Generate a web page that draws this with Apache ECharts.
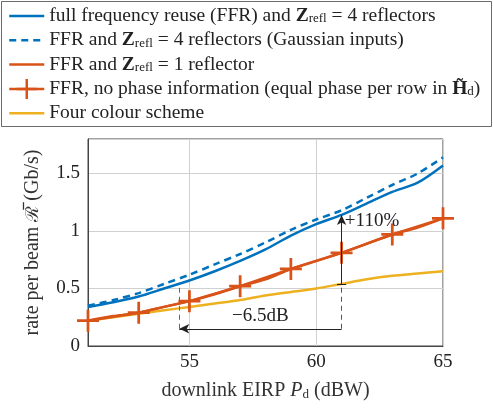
<!DOCTYPE html>
<html>
<head>
<meta charset="utf-8">
<script src="https://cdn.jsdelivr.net/npm/echarts@6/dist/echarts.min.js"></script>
<style>
  html, body { margin: 0; padding: 0; background: #fff; }
  #myChart { width: 493px; height: 408px; }
</style>
</head>
<body>
<div id="myChart"></div>
<script>
// downlink EIRP (dBW)
const eirp = [51, 52, 53, 54, 55, 56, 57, 58, 59, 60, 61, 62, 63, 64, 65]
// rate per beam (Gb/s)
const ffr4 = [0.34, 0.38, 0.43, 0.50, 0.57, 0.65, 0.74, 0.84, 0.96, 1.06, 1.14, 1.24, 1.34, 1.42, 1.57]
const ffr4Gauss = [0.35, 0.40, 0.46, 0.54, 0.62, 0.71, 0.80, 0.90, 1.01, 1.10, 1.18, 1.29, 1.40, 1.50, 1.64]
const ffr1 = [0.22, 0.26, 0.29, 0.34, 0.39, 0.45, 0.52, 0.58, 0.67, 0.74, 0.81, 0.89, 0.97, 1.03, 1.11]
const crossEirp = [51, 53, 55, 57, 59, 61, 63, 65]
const noPhase = [0.22, 0.29, 0.39, 0.52, 0.67, 0.81, 0.97, 1.11]
const fourColour = [0.22, 0.25, 0.28, 0.31, 0.34, 0.37, 0.40, 0.44, 0.47, 0.50, 0.54, 0.58, 0.61, 0.63, 0.65]

// annotations: -6.5dB shift and +110% gain
const shiftX = [61, 54.6]
const shiftY = 0.15
const shiftTop = [0.54, 0.55] // top of the dashed guides at 61 and 54.6
const gainX = 61
const gainY = [0.54, 1.14]

const FONT = 'Liberation Serif'
const names = [
  'full frequency reuse (FFR) and Z = 4 reflectors',
  'FFR and Z = 4 reflectors (Gaussian inputs)',
  'FFR and Z = 1 reflector',
  'FFR, no phase information',
  'Four colour scheme'
]
const legendText = {}
legendText[names[0]] = 'full frequency reuse (FFR) and {b|Z}{sub|refl} = 4 reflectors'
legendText[names[1]] = 'FFR and {b|Z}{sub|refl} = 4 reflectors (Gaussian inputs)'
legendText[names[2]] = 'FFR and {b|Z}{sub|refl} = 1 reflector'
legendText[names[3]] = 'FFR, no phase information (equal phase per row in {b|H\u0303}{sub|d})'
legendText[names[4]] = 'Four colour scheme'

const pairs = (xs, ys) => xs.map((x, i) => [x, ys[i]])
const cross = 'path://M-1.5,-12L1.5,-12L1.5,-1.5L12,-1.5L12,1.5L1.5,1.5L1.5,12L-1.5,12L-1.5,1.5L-12,1.5L-12,-1.5L-1.5,-1.5Z'
const lineOnly = { opacity: 0 } // legend: plain line, no marker

const chart = echarts.init(document.getElementById('myChart'))
chart.setOption({
  animation: false,
  textStyle: { fontFamily: FONT },
  graphic: [{
    type: 'rect',
    shape: { x: 1.5, y: 1.5, width: 490, height: 125 },
    style: { fill: 'none', stroke: '#6b6b6b', lineWidth: 1 },
    z: -1
  }],
  legend: {
    data: [
      { name: names[0], itemStyle: lineOnly },
      { name: names[1], itemStyle: lineOnly },
      { name: names[2], itemStyle: lineOnly },
      { name: names[3] },
      { name: names[4], itemStyle: lineOnly }
    ],
    orient: 'vertical',
    left: 8,
    top: 6,
    padding: 0,
    itemWidth: 35,
    itemHeight: 25,
    itemGap: 4.3,
    lineStyle: { width: 2.5 },
    formatter: name => legendText[name],
    textStyle: {
      fontFamily: FONT,
      fontSize: 19.5,
      color: '#222',
      lineHeight: 20,
      rich: {
        b: { fontFamily: FONT, fontSize: 19.5, fontWeight: 'bold', color: '#222', lineHeight: 20 },
        sub: { fontFamily: FONT, fontSize: 13, color: '#222', lineHeight: 14, padding: [6, 0, 0, 0] }
      }
    }
  },
  grid: {
    left: 88,
    right: 50,
    top: 139,
    bottom: 62,
    show: true,
    borderColor: '#444',
    borderWidth: 1
  },
  xAxis: {
    type: 'value',
    min: 51,
    max: 65,
    splitNumber: 3,
    name: 'downlink EIRP {i|P}{sub|d} (dBW)',
    nameLocation: 'middle',
    nameGap: 34,
    nameTextStyle: {
      fontFamily: FONT,
      fontSize: 20,
      color: '#333',
      rich: {
        i: { fontFamily: FONT, fontSize: 20, fontStyle: 'italic', color: '#333' },
        sub: { fontFamily: FONT, fontSize: 13, color: '#333', padding: [8, 0, 0, 0] }
      }
    },
    axisLine: { lineStyle: { color: '#444' } },
    axisTick: { show: false },
    axisLabel: { showMinLabel: false, fontSize: 19, color: '#222', margin: 7, fontFamily: FONT },
    splitLine: { lineStyle: { color: '#d0d0d0' } }
  },
  yAxis: {
    type: 'value',
    min: 0,
    max: 1.8,
    interval: 0.5,
    name: 'rate per beam {r|\u211B\u0305} (Gb/s)',
    nameLocation: 'middle',
    nameGap: 45,
    nameTextStyle: {
      fontFamily: FONT,
      fontSize: 20,
      color: '#333',
      rich: {
        r: { fontFamily: 'DejaVu Serif', fontSize: 18, color: '#333' }
      }
    },
    axisLine: { show: true, lineStyle: { color: '#444' } },
    axisTick: { show: false },
    axisLabel: { showMaxLabel: false, fontSize: 19, color: '#222', margin: 8, fontFamily: FONT },
    splitLine: { lineStyle: { color: '#d0d0d0' } }
  },
  series: [
    {
      name: names[0],
      type: 'line',
      smooth: 0.3,
      symbol: 'none',
      data: pairs(eirp, ffr4),
      lineStyle: { color: '#0072BD', width: 2.5 },
      itemStyle: { color: '#0072BD' },
      z: 3
    },
    {
      name: names[1],
      type: 'line',
      smooth: 0.3,
      symbol: 'none',
      data: pairs(eirp, ffr4Gauss),
      lineStyle: { color: '#0072BD', width: 2.5, type: [7, 5] },
      itemStyle: { color: '#0072BD' },
      z: 3
    },
    {
      name: names[2],
      type: 'line',
      smooth: 0.3,
      symbol: 'none',
      data: pairs(eirp, ffr1),
      lineStyle: { color: '#D95319', width: 2.5 },
      itemStyle: { color: '#D95319' },
      z: 3
    },
    {
      name: names[3],
      type: 'line',
      symbol: cross,
      symbolSize: 22,
      showSymbol: true,
      data: pairs(crossEirp, noPhase),
      lineStyle: { color: '#D95319', width: 2.5 },
      itemStyle: { color: '#D95319' },
      z: 4
    },
    {
      name: names[4],
      type: 'line',
      smooth: 0.3,
      symbol: 'none',
      data: pairs(eirp, fourColour),
      lineStyle: { color: '#EDB120', width: 2.5 },
      itemStyle: { color: '#EDB120' },
      z: 2
    },
    {
      name: 'annotations',
      type: 'line',
      data: [],
      markLine: {
        silent: true,
        animation: false,
        symbol: ['none', 'none'],
        lineStyle: { color: '#222', width: 1, type: 'solid' },
        label: { show: false },
        data: [
          [
            { coord: [shiftX[0], shiftY], symbol: 'none' },
            {
              coord: [shiftX[1], shiftY], symbol: 'arrow', symbolSize: [7, 10],
              label: { show: true, position: 'middle', formatter: '\u22126.5dB', fontFamily: FONT, fontSize: 19, color: '#222', distance: 3 }
            }
          ],
          [
            { coord: [shiftX[0], shiftY], lineStyle: { type: [5, 4], color: '#555' } },
            { coord: [shiftX[0], shiftTop[0]] }
          ],
          [
            { coord: [shiftX[1], shiftY], lineStyle: { type: [5, 4], color: '#666' } },
            { coord: [shiftX[1], shiftTop[1]] }
          ],
          [
            { coord: [gainX - 0.18, gainY[0]] },
            { coord: [gainX + 0.18, gainY[0]] }
          ],
          [
            { coord: [gainX, gainY[0]], symbol: 'none' },
            { coord: [gainX, gainY[1]], symbol: 'arrow', symbolSize: [7, 10] }
          ]
        ]
      },
      markPoint: {
        silent: true,
        animation: false,
        symbol: 'circle',
        symbolSize: 0,
        data: [{
          coord: [gainX + 0.13, gainY[1] - 0.05],
          label: { show: true, position: 'right', distance: 0, formatter: '+110%', fontFamily: FONT, fontSize: 19, color: '#222' }
        }]
      }
    }
  ]
})
</script>
</body>
</html>
